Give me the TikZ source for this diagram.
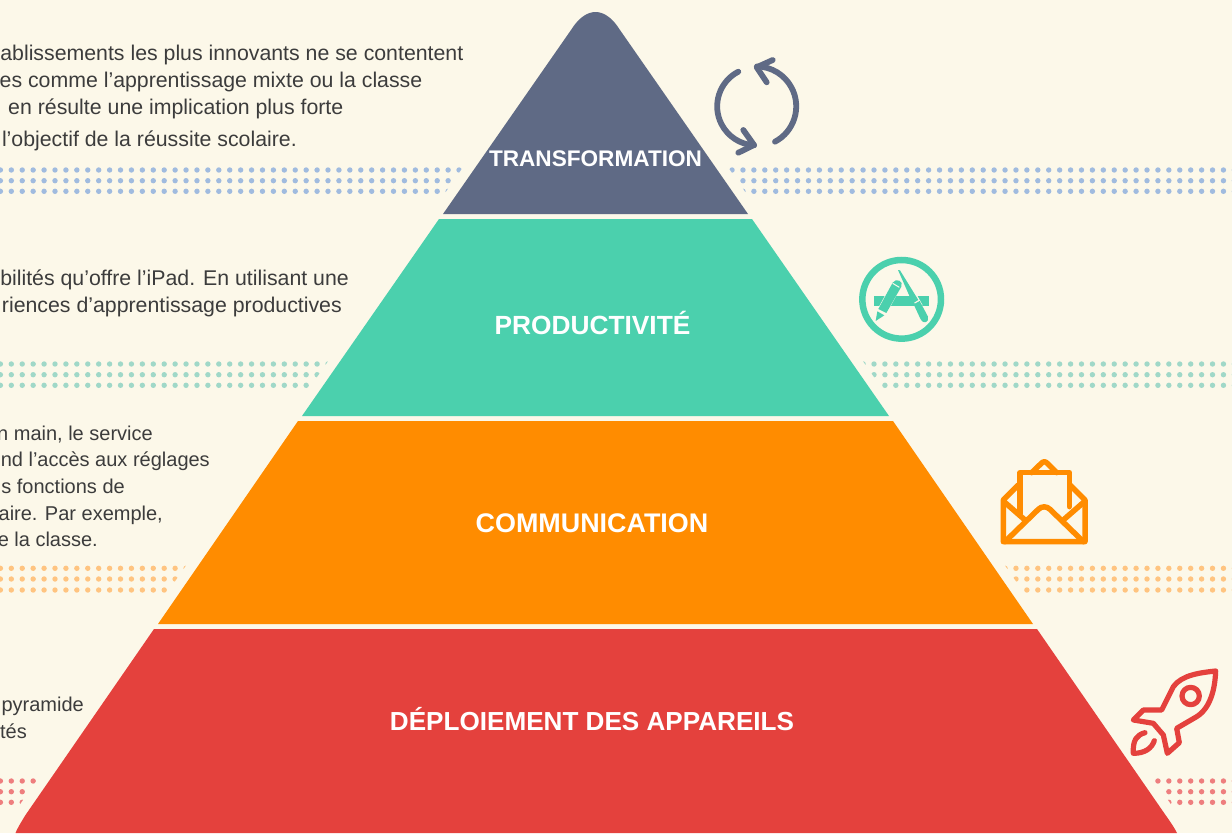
\documentclass[tikz,border=0pt]{standalone}
\usepackage{fontspec}
\setmainfont{Liberation Sans}
\definecolor{bgc}{HTML}{FCF8E9}
\definecolor{slatec}{HTML}{5F6A85}
\definecolor{greenc}{HTML}{4BD0AD}
\definecolor{orangec}{HTML}{FF8C00}
\definecolor{redc}{HTML}{E4413D}
\definecolor{textc}{HTML}{3C3C3C}
\definecolor{dotblue}{HTML}{A0BBDF}
\definecolor{dotgreen}{HTML}{A0D8C8}
\definecolor{dotorange}{HTML}{FFC480}
\definecolor{dotred}{HTML}{EE7E7E}
\tikzset{
  body/.style={anchor=base east,inner sep=0pt,text=textc,font=\fontsize{20}{24}\selectfont},
  bodylarge/.style={anchor=base east,inner sep=0pt,text=textc,font=\fontsize{21.3}{25}\selectfont},
  tiertitle/.style={anchor=base,inner sep=0pt,text=white,font=\fontsize{#1}{30}\selectfont\bfseries},
  iconline/.style={line width=#1,line cap=round,line join=round,fill=none},
}
\newcommand{\dotrow}[2]{\foreach \k in {0,...,113}{\fill[#2] ({0.4+10.92*\k},#1) circle[radius=2.7];}}
\begin{document}
\begin{tikzpicture}[x=1pt,y=-1pt]
\useasboundingbox (0,0) rectangle (1232,833);
\fill[bgc] (0,0) rectangle (1232,833);
% dots
\begin{scope}
\clip (-10,-5.4) -- (582.9,-5.4) -- (-1.1,834.6) -- (-10,834.6) -- cycle
      (608.1,-5.4) -- (1242,-5.4) -- (1242,834.6) -- (1192.1,834.6) -- cycle;
\dotrow{170}{dotblue}\dotrow{180.7}{dotblue}\dotrow{191.3}{dotblue}
\dotrow{364}{dotgreen}\dotrow{374.7}{dotgreen}\dotrow{385.3}{dotgreen}
\dotrow{568.3}{dotorange}\dotrow{579}{dotorange}\dotrow{590}{dotorange}
\dotrow{781}{dotred}\dotrow{791.7}{dotred}\dotrow{802.3}{dotred}
\end{scope}
% pyramid
\fill[slatec] (443,214) -- (571,30) .. controls (586,6) and (605,6) .. (620,30) -- (748,214) -- cycle;
\fill[greenc] (439,219) -- (752,219) -- (889,416) -- (302,416) -- cycle;
\fill[orangec] (298,421) -- (893,421) -- (1033,624) -- (158,624) -- cycle;
\fill[redc] (154,629) -- (1037,629) -- (1165.5,815) .. controls (1172,824) and (1175,829) .. (1177,833) -- (15.5,833) .. controls (17,829) and (20,824) .. (25.5,815) -- cycle;
% titles
\node[tiertitle=22.6] (t1) at (595.5,166) {TRANSFORMATION};
\node[tiertitle=26.3] (t2) at (592.5,334) {PRODUCTIVITÉ};
\node[tiertitle=26.9] (t3) at (592,532) {COMMUNICATION};
\node[tiertitle=26.1] (t4) at (592,730) {DÉPLOIEMENT DES APPAREILS};
% body text
\node[bodylarge] (a1) at (463.5,60) {ablissements les plus innovants ne se contentent};
\node[bodylarge] (a2) at (422.5,87) {es comme l’apprentissage mixte ou la classe};
\node[bodylarge] (a3) at (343.5,114) {en résulte une implication plus forte};
\node[bodylarge] (a4) at (297,146) {l’objectif de la réussite scolaire.};
\node[bodylarge] (b1) at (349,285) {bilités qu’offre l’iPad. En utilisant une};
\node[bodylarge] (b2) at (342,312) {riences d’apprentissage productives};
\node[body] (c1) at (153,440) {n main, le service};
\node[body] (c2) at (210,466) {nd l’accès aux réglages};
\node[body] (c3) at (125,493) {s fonctions de};
\node[body] (c4) at (163,520) {aire. Par exemple,};
\node[body] (c5) at (98,546) {e la classe.};
\node[body] (d1) at (84,711) {pyramide};
\node[body] (d2) at (27,738) {tés};
% refresh icon
\begin{scope}[slatec]
\draw[iconline=5.8pt] (738.3,71.7) arc[start angle=242.7,end angle=93,radius=39];
\draw[iconline=5.8pt] (775,141.7) arc[start angle=62,end angle=-89,radius=40];
\draw[iconline=5.8pt] (772.7,60) -- (756.7,67.3) -- (766.7,82.3);
\draw[iconline=5.8pt] (738.3,152.7) -- (754,145) -- (743.3,130);
\end{scope}
% app icon
\begin{scope}[shift={(840,240)},scale=0.3333]
\draw[greenc,line width=6.5pt] (185,178) circle[radius=118];
\fill[greenc] (103,167) rectangle (267,198);
\draw[bgc,line width=10pt] (122,222) -- (172,130);
\draw[bgc,line width=6pt] (190,110) -- (240,200);
\fill[greenc] (107,243) -- (112,214) -- (133,226) -- cycle;
\fill[greenc] (115,207) -- (158,128) .. controls (168,112) and (192,124) .. (184,140) -- (139,219) -- cycle;
\draw[bgc,line width=1pt] (158,130) -- (178,142);
\fill[greenc] (174,90) .. controls (176,88) and (179,89) .. (180,91) -- (235,180) -- (218,190) -- cycle;
\fill[greenc] (221,193) -- (239,183) -- (264,230) .. controls (270,247) and (248,254) .. (242,238) -- cycle;
\end{scope}
% envelope icon
\begin{scope}[shift={(990,450)},scale=0.3333,orangec]
\draw[iconline=5.5pt] (85,105) -- (40,150) -- (40,275) -- (285,275) -- (285,150) -- (240,105);
\draw[iconline=5.5pt] (90,190) -- (90,68) -- (238,68) -- (238,170);
\draw[iconline=5.5pt] (125,68) -- (152,42) .. controls (160,33) and (166,33) .. (174,42) -- (200,68);
\draw[iconline=5.5pt] (45,275) -- (145,178) .. controls (155,168) and (170,168) .. (180,178) -- (280,275);
\draw[iconline=5.5pt] (42,155) -- (105,210);
\draw[iconline=5.5pt] (283,155) -- (220,210);
\end{scope}
% rocket icon
\begin{scope}[shift={(1120,660)},scale=0.3333,redc]
\draw[iconline=5.2pt] (287,33) .. controls (240,38) and (185,45) .. (160,80) -- (125,150) -- (70,150) -- (40,180) -- (100,190) -- (130,225) -- (142,280) -- (178,248) -- (170,205) -- (230,170) .. controls (270,145) and (285,90) .. cycle;
\draw[iconline=5.2pt] (212,108) circle[radius=26];
\draw[iconline=5.2pt] (75,218) .. controls (50,225) and (38,240) .. (40,280) .. controls (75,280) and (95,265) .. (103,242);
\end{scope}
\end{tikzpicture}
\end{document}
